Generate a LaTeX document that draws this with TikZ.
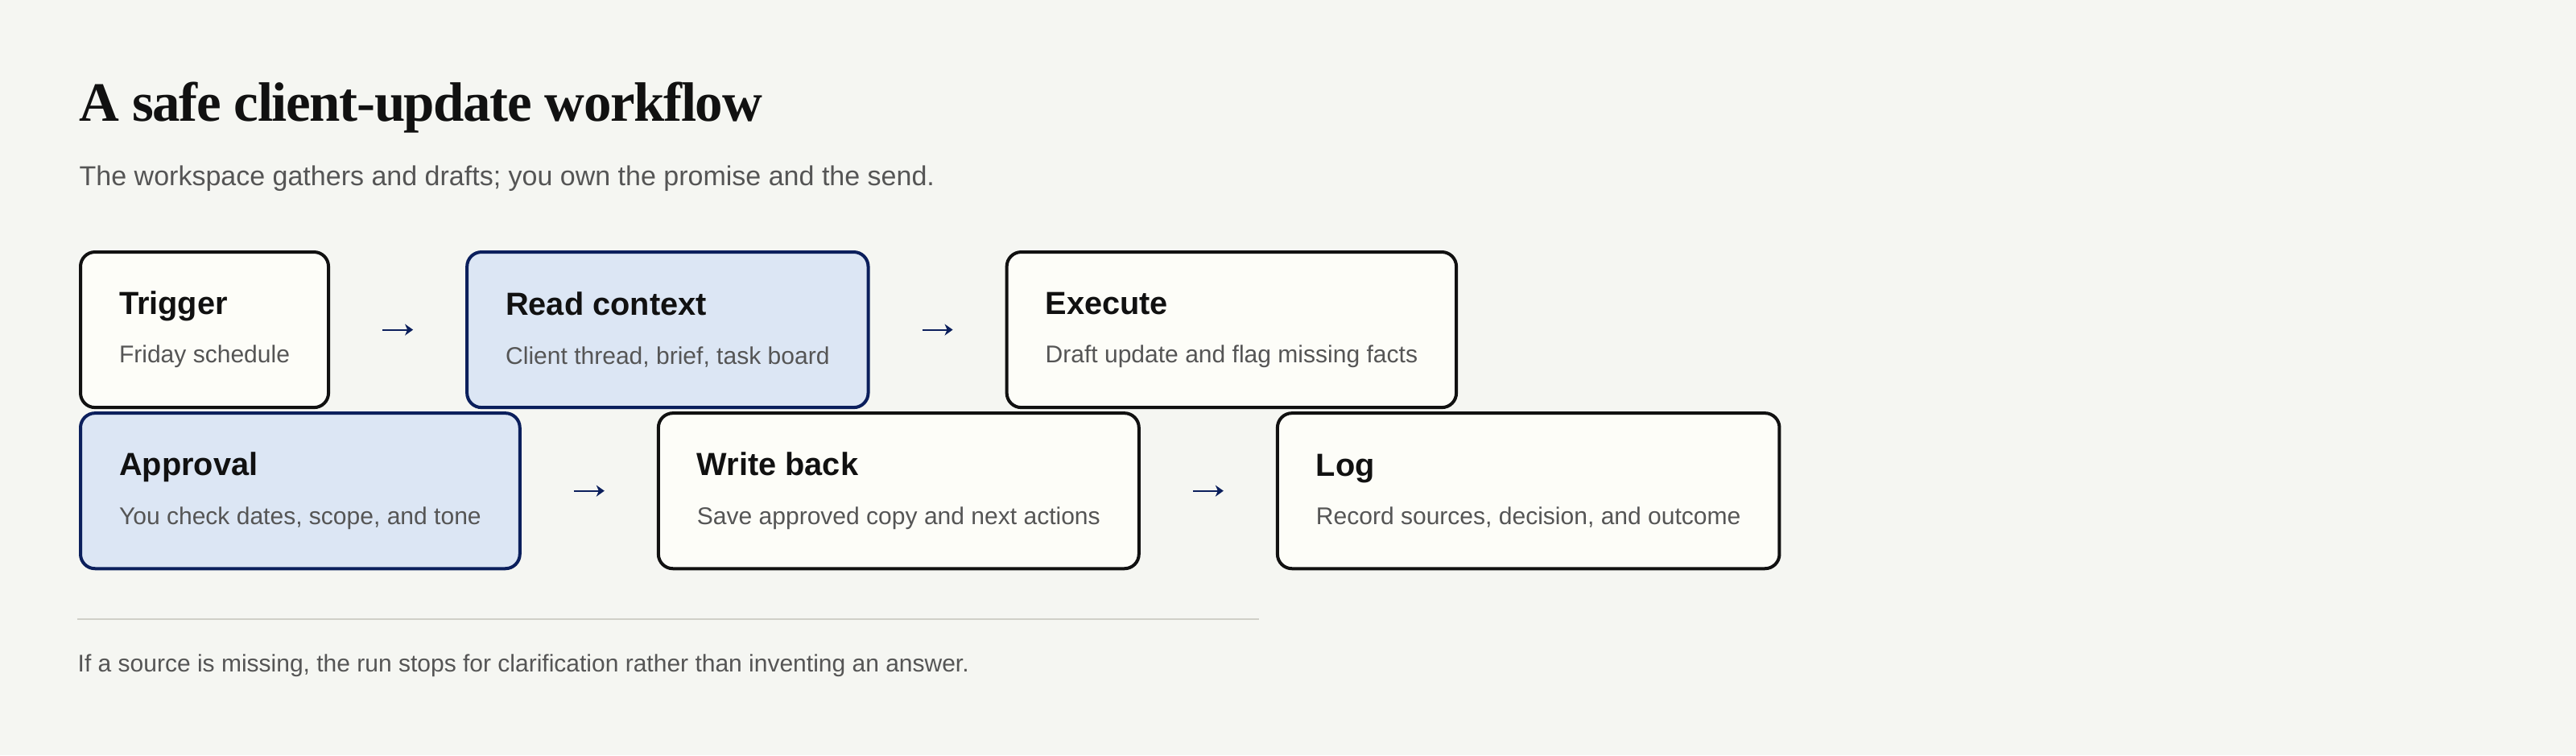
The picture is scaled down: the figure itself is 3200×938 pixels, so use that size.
\documentclass[tikz,border=0pt]{standalone}
\usepackage{fontspec}
\setmainfont{Liberation Serif}
\setsansfont{Liberation Sans}
\usetikzlibrary{positioning,arrows.meta}

\definecolor{paper}{HTML}{F5F6F2}
\definecolor{cream}{HTML}{FDFDF8}
\definecolor{softblue}{HTML}{DCE6F4}
\definecolor{navy}{HTML}{0B1F5C}
\definecolor{ink}{HTML}{111111}
\definecolor{muted}{HTML}{555555}
\definecolor{rule}{HTML}{D0D0C8}

\newcommand{\cardhead}[1]{{\sffamily\bfseries\fontsize{11.3pt}{13pt}\selectfont\color{ink}#1}}
\newcommand{\cardsub}[1]{{\sffamily\fontsize{8.54pt}{10pt}\selectfont\color{muted}#1}}

\tikzset{
  card/.style={draw=ink, fill=cream, line width=1.14pt, rounded corners=0.18cm,
    minimum height=1.93cm, inner xsep=0.48cm, inner ysep=0pt, align=left},
  bluecard/.style={card, draw=navy, fill=softblue},
  flow/.style={draw=navy, line width=0.57pt,
    -{Stealth[length=0.1cm, width=0.14cm, inset=0.03cm]},
    shorten <=0.65cm, shorten >=0.65cm}
}

\begin{document}
\begin{tikzpicture}[x=0.01cm, y=-0.01cm, node distance=1.68cm]
  \fill[paper] (0,0) rectangle (3200,938);
  \useasboundingbox (0,0) rectangle (3200,938);

  % heading
  \node (title) at (98,150) [anchor=base west, inner sep=0pt, font=\bfseries\fontsize{19.6pt}{24pt}\selectfont\addfontfeature{LetterSpace=-2}, text=ink] {A safe client-update workflow};
  \node (intro) at (98,230) [anchor=base west, inner sep=0pt, font=\sffamily\fontsize{9.67pt}{12pt}\selectfont, text=muted] {The workspace gathers and drafts; you own the promise and the send.};

  % first row
  \node (trigger) at (98,311) [card, anchor=north west] {\cardhead{Trigger}\\[0.18cm]\cardsub{Friday schedule}};
  \node (read) [bluecard, right=of trigger] {\cardhead{Read context}\\[0.18cm]\cardsub{Client thread, brief, task board}};
  \node (execute) [card, right=of read] {\cardhead{Execute}\\[0.18cm]\cardsub{Draft update and flag missing facts}};

  % second row
  \node (approval) [bluecard, below right=0.03cm and 0cm of trigger.south west] {\cardhead{Approval}\\[0.18cm]\cardsub{You check dates, scope, and tone}};
  \node (writeback) [card, right=of approval] {\cardhead{Write back}\\[0.18cm]\cardsub{Save approved copy and next actions}};
  \node (log) [card, right=of writeback] {\cardhead{Log}\\[0.18cm]\cardsub{Record sources, decision, and outcome}};

  \draw [flow] (trigger) -- (read);
  \draw [flow] (read) -- (execute);
  \draw [flow] (approval) -- (writeback);
  \draw [flow] (writeback) -- (log);

  % footer
  \coordinate (ruleL) at (96,769);
  \coordinate (ruleR) at (1564,769);
  \draw [rule, line width=0.57pt] (ruleL) -- (ruleR);
  \node (note) at (96,834) [anchor=base west, inner sep=0pt, font=\sffamily\fontsize{8.53pt}{10pt}\selectfont, text=muted] {If a source is missing, the run stops for clarification rather than inventing an answer.};
\end{tikzpicture}
\end{document}
